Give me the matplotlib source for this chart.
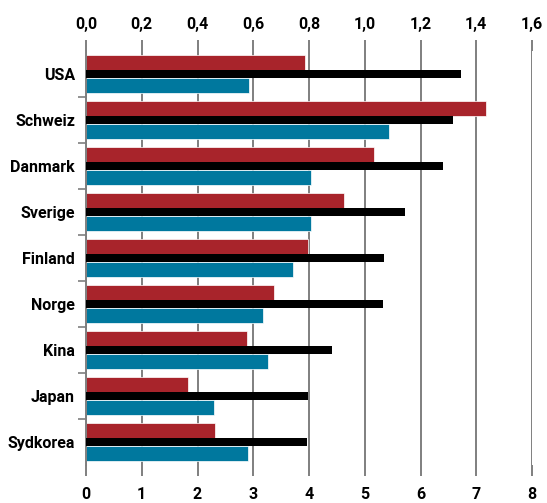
import matplotlib
matplotlib.use("Agg")
import matplotlib.pyplot as plt
import numpy as np

countries = ["USA", "Schweiz", "Danmark", "Sverige", "Finland", "Norge", "Kina", "Japan", "Sydkorea"]
red_vals = [3.92, 7.17, 5.17, 4.63, 3.98, 3.38, 2.88, 1.83, 2.31]
black_vals = [6.72, 6.59, 6.41, 5.72, 5.35, 5.32, 4.42, 3.99, 3.96]
blue_vals = [2.92, 5.43, 4.03, 4.04, 3.71, 3.18, 3.26, 2.29, 2.90]
bottom_ticks = [0, 1, 2, 3, 4, 5, 6, 7, 8]
top_ticks = [0.0, 0.2, 0.4, 0.6, 0.8, 1.0, 1.2, 1.4, 1.6]

plt.rcParams['font.family'] = ['Roboto', 'DejaVu Sans']

fig = plt.figure(figsize=(5.47, 5.03), dpi=100)
ax = fig.add_axes([86/547, 1-465/503, (532-86)/547, (465-51)/503])

y = np.arange(len(countries))
RED = "#a8242b"
BLUE = "#00789e"
GRID = "#7f7f7f"

for xv in bottom_ticks:
    ax.axvline(xv, color=GRID, lw=1.4, zorder=0)

ax.barh(y - 0.25, red_vals, height=0.33, color=RED, edgecolor="white", linewidth=0.5, zorder=2)
ax.barh(y + 0.25, blue_vals, height=0.33, color=BLUE, edgecolor="white", linewidth=0.5, zorder=2)
ax.barh(y, black_vals, height=0.16, color="black", linewidth=0, zorder=3)

FS = 11.5
ax.set_xlim(0, 8)
ax.set_ylim(8.5, -0.5)
ax.set_yticks(y)
ax.set_yticklabels(countries, fontsize=FS, fontweight="bold")
ax.tick_params(axis="y", length=0, pad=8)
ax.set_yticks(np.arange(0.5, 8, 1), minor=True)
ax.tick_params(axis="y", which="minor", length=6, color=GRID, width=1.2)

ax.set_xticks(bottom_ticks)
ax.set_xticklabels([str(t) for t in bottom_ticks], fontsize=FS, fontweight="bold")
ax.tick_params(axis="x", length=8, color=GRID, width=1.4, pad=8)

sec = ax.secondary_xaxis("top", functions=(lambda v: v / 5, lambda v: v * 5))
sec.set_xticks(top_ticks)
sec.set_xticklabels([f"{t:.1f}".replace(".", ",") for t in top_ticks], fontsize=FS, fontweight="bold")
sec.tick_params(axis="x", length=8, color=GRID, width=1.4, pad=6)
for s in sec.spines.values():
    s.set_visible(False)

for s in ["top", "right", "bottom"]:
    ax.spines[s].set_visible(False)
ax.spines["left"].set_color(GRID)
ax.spines["left"].set_linewidth(1.4)

fig.savefig("out.png", dpi=100)
